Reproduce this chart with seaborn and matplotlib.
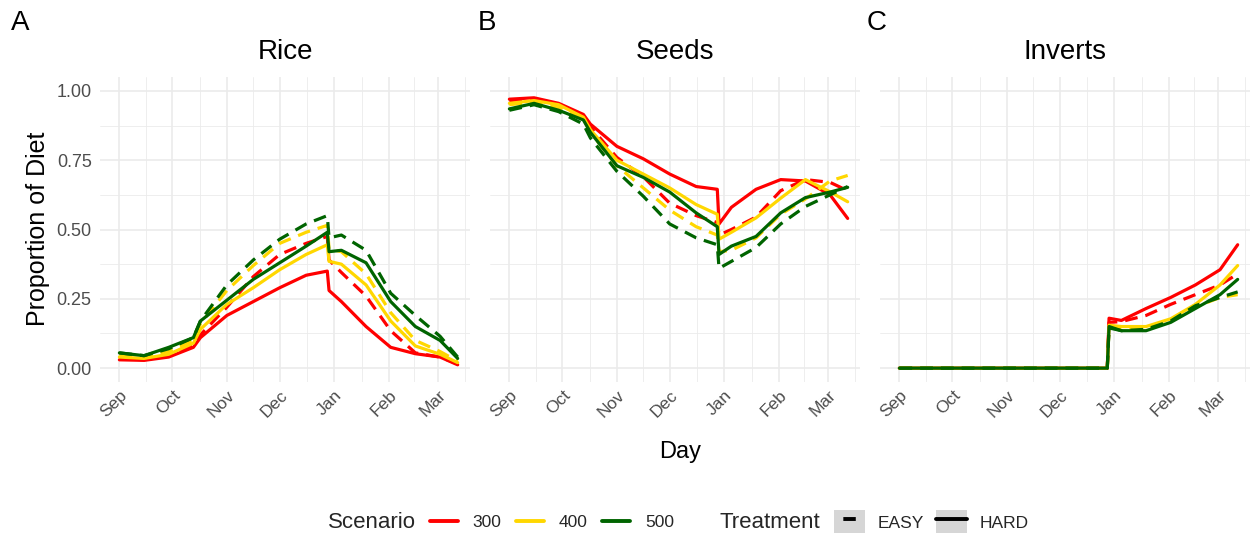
import numpy as np
import pandas as pd
import seaborn as sns
import matplotlib.pyplot as plt
from matplotlib.lines import Line2D
from matplotlib.patches import Patch

# days since 1 Sep
DAYS = [0, 14, 28, 42, 46, 61, 76, 91, 106, 118, 119, 126, 140, 154, 168, 182, 192]

MONTH_TICKS = [0, 30, 61, 91, 122, 153, 181]
MONTH_LABELS = ['Sep', 'Oct', 'Nov', 'Dec', 'Jan', 'Feb', 'Mar']
MINOR_TICKS = [15, 45.5, 76, 106.5, 137.5, 167, 196]

PANELS = ['Rice', 'Seeds', 'Inverts']
PANEL_TAGS = ['A', 'B', 'C']
SCENARIOS = ['300', '400', '500']
TREATMENTS = ['EASY', 'HARD']
COLORS = ['#FF0000', '#FFD700', '#006400']

RICE_300_EASY = [0.035, 0.030, 0.045, 0.080, 0.120, 0.220, 0.330, 0.410, 0.450, 0.475, 0.390, 0.345, 0.260, 0.135, 0.055, 0.040, 0.015]
RICE_300_HARD = [0.030, 0.028, 0.040, 0.075, 0.110, 0.190, 0.240, 0.290, 0.335, 0.350, 0.280, 0.240, 0.150, 0.075, 0.052, 0.040, 0.012]
RICE_400_EASY = [0.045, 0.040, 0.060, 0.100, 0.160, 0.280, 0.370, 0.450, 0.490, 0.515, 0.430, 0.420, 0.340, 0.200, 0.100, 0.060, 0.025]
RICE_400_HARD = [0.040, 0.035, 0.050, 0.090, 0.140, 0.230, 0.290, 0.355, 0.410, 0.445, 0.385, 0.375, 0.300, 0.170, 0.080, 0.050, 0.020]
RICE_500_EASY = [0.055, 0.045, 0.070, 0.110, 0.170, 0.300, 0.390, 0.465, 0.520, 0.550, 0.470, 0.480, 0.425, 0.270, 0.190, 0.115, 0.040]
RICE_500_HARD = [0.055, 0.045, 0.075, 0.110, 0.170, 0.245, 0.320, 0.380, 0.440, 0.490, 0.420, 0.425, 0.380, 0.240, 0.150, 0.100, 0.035]

SEEDS_300_EASY = [0.965, 0.970, 0.950, 0.910, 0.870, 0.760, 0.690, 0.595, 0.550, 0.525, 0.480, 0.500, 0.545, 0.640, 0.680, 0.670, 0.640]
SEEDS_300_HARD = [0.970, 0.975, 0.955, 0.915, 0.880, 0.800, 0.755, 0.700, 0.655, 0.645, 0.520, 0.580, 0.645, 0.680, 0.675, 0.625, 0.540]
SEEDS_400_EASY = [0.950, 0.960, 0.940, 0.900, 0.850, 0.730, 0.650, 0.570, 0.510, 0.480, 0.420, 0.425, 0.470, 0.555, 0.610, 0.675, 0.695]
SEEDS_400_HARD = [0.955, 0.965, 0.950, 0.905, 0.860, 0.750, 0.700, 0.650, 0.590, 0.555, 0.465, 0.490, 0.542, 0.613, 0.680, 0.636, 0.600]
SEEDS_500_EASY = [0.930, 0.950, 0.925, 0.880, 0.830, 0.710, 0.620, 0.520, 0.470, 0.445, 0.360, 0.385, 0.435, 0.520, 0.583, 0.625, 0.655]
SEEDS_500_HARD = [0.935, 0.955, 0.930, 0.895, 0.850, 0.730, 0.688, 0.635, 0.560, 0.510, 0.410, 0.440, 0.475, 0.560, 0.615, 0.635, 0.652]

INVERTS_300_EASY = [0, 0, 0, 0, 0, 0, 0, 0, 0, 0, 0.165, 0.168, 0.190, 0.230, 0.265, 0.300, 0.340]
INVERTS_300_HARD = [0, 0, 0, 0, 0, 0, 0, 0, 0, 0, 0.180, 0.172, 0.215, 0.255, 0.300, 0.355, 0.445]
INVERTS_400_EASY = [0, 0, 0, 0, 0, 0, 0, 0, 0, 0, 0.150, 0.145, 0.145, 0.170, 0.220, 0.255, 0.265]
INVERTS_400_HARD = [0, 0, 0, 0, 0, 0, 0, 0, 0, 0, 0.155, 0.150, 0.150, 0.178, 0.230, 0.300, 0.370]
INVERTS_500_EASY = [0, 0, 0, 0, 0, 0, 0, 0, 0, 0, 0.145, 0.135, 0.140, 0.170, 0.225, 0.255, 0.275]
INVERTS_500_HARD = [0, 0, 0, 0, 0, 0, 0, 0, 0, 0, 0.150, 0.135, 0.135, 0.165, 0.215, 0.265, 0.320]

SERIES = {
    'Rice': {('300', 'EASY'): RICE_300_EASY, ('300', 'HARD'): RICE_300_HARD,
             ('400', 'EASY'): RICE_400_EASY, ('400', 'HARD'): RICE_400_HARD,
             ('500', 'EASY'): RICE_500_EASY, ('500', 'HARD'): RICE_500_HARD},
    'Seeds': {('300', 'EASY'): SEEDS_300_EASY, ('300', 'HARD'): SEEDS_300_HARD,
              ('400', 'EASY'): SEEDS_400_EASY, ('400', 'HARD'): SEEDS_400_HARD,
              ('500', 'EASY'): SEEDS_500_EASY, ('500', 'HARD'): SEEDS_500_HARD},
    'Inverts': {('300', 'EASY'): INVERTS_300_EASY, ('300', 'HARD'): INVERTS_300_HARD,
                ('400', 'EASY'): INVERTS_400_EASY, ('400', 'HARD'): INVERTS_400_HARD,
                ('500', 'EASY'): INVERTS_500_EASY, ('500', 'HARD'): INVERTS_500_HARD},
}

rows = []
for panel, groups in SERIES.items():
    for (scen, treat), vals in groups.items():
        for d, v in zip(DAYS, vals):
            rows.append({'Panel': panel, 'Scenario': scen, 'Treatment': treat, 'Day': d, 'Value': v})
df = pd.DataFrame(rows)

sns.set_theme(style="white")
plt.rcParams['font.family'] = ['Liberation Sans', 'DejaVu Sans']

fig = plt.figure(figsize=(12.57, 5.33), dpi=100)
W, H = 1257, 533
lefts = [100, 490, 880]
tag_x = [11, 478, 867]
palette = dict(zip(SCENARIOS, COLORS))
dash_map = {'EASY': (4, 2.5), 'HARD': ''}

for i, panel in enumerate(PANELS):
    ax = fig.add_axes([lefts[i] / W, 1 - 382 / H, 370 / W, 305 / H])
    sub = df[df['Panel'] == panel]
    sns.lineplot(data=sub, x='Day', y='Value', hue='Scenario', style='Treatment',
                 hue_order=SCENARIOS, style_order=TREATMENTS, palette=palette,
                 dashes=dash_map, estimator=None, linewidth=2.3, legend=False, ax=ax)

    ax.set_xlim(-11, 199)
    ax.set_ylim(-0.05, 1.05)
    ax.set_xticks(MONTH_TICKS)
    ax.set_xticks(MINOR_TICKS, minor=True)
    ax.set_yticks([0, 0.25, 0.5, 0.75, 1.0])
    ax.set_yticks([0.125, 0.375, 0.625, 0.875], minor=True)
    ax.set_xticklabels(MONTH_LABELS, rotation=45, ha='right', va='top',
                       rotation_mode='anchor', fontsize=12.5, color='#4D4D4D')
    if i == 0:
        ax.set_yticklabels(['0.00', '0.25', '0.50', '0.75', '1.00'], fontsize=13, color='#4D4D4D')
    else:
        ax.set_yticklabels([])
    ax.tick_params(axis='both', which='both', length=0)
    ax.tick_params(axis='x', pad=4)
    ax.tick_params(axis='y', pad=6)
    ax.grid(True, which='major', color='#EBEBEB', linewidth=1.2)
    ax.grid(True, which='minor', color='#EBEBEB', linewidth=0.6)
    ax.set_axisbelow(True)
    for s in ax.spines.values():
        s.set_visible(False)
    ax.set_xlabel('')
    ax.set_ylabel('')
    ax.set_title(panel, fontsize=20, pad=13, color='black')
    fig.text(tag_x[i] / W, 1 - 10 / H, PANEL_TAGS[i], fontsize=20,
             ha='left', va='top', color='black')

fig.text(38 / W, 1 - 229 / H, 'Proportion of Diet', rotation=90, fontsize=18,
         ha='center', va='center', color='black')
fig.text(680 / W, 1 - 452 / H, 'Day', fontsize=17, ha='center', va='center', color='black')

# legends
leg_y = 1 - 522 / H
fig.text(328 / W, leg_y, 'Scenario', fontsize=16, ha='left', va='center')
scen_handles = [Line2D([], [], color=c, lw=2.8) for c in COLORS]
fig.legend(scen_handles, SCENARIOS, loc='center left', bbox_to_anchor=(430 / W, leg_y),
           ncol=3, frameon=False, fontsize=12.5, handlelength=1.6, handletextpad=0.85,
           columnspacing=0.85, borderpad=0, borderaxespad=0)

fig.text(720 / W, leg_y, 'Treatment', fontsize=16, ha='left', va='center')
key_bg = '#D6D6D6'
treat_handles = [
    (Patch(facecolor=key_bg, edgecolor='none'),
     Line2D([], [], color='black', lw=2.8, linestyle=(3.2, (3.2, 2.4)))),
    (Patch(facecolor=key_bg, edgecolor='none'),
     Line2D([], [], color='black', lw=2.8)),
]
fig.legend(treat_handles, TREATMENTS, loc='center left', bbox_to_anchor=(834 / W, leg_y),
           ncol=2, frameon=False, fontsize=12.5, handlelength=1.8, handleheight=1.7,
           handletextpad=0.7, columnspacing=0.7, borderpad=0, borderaxespad=0)

fig.savefig('out.png', dpi=100)
